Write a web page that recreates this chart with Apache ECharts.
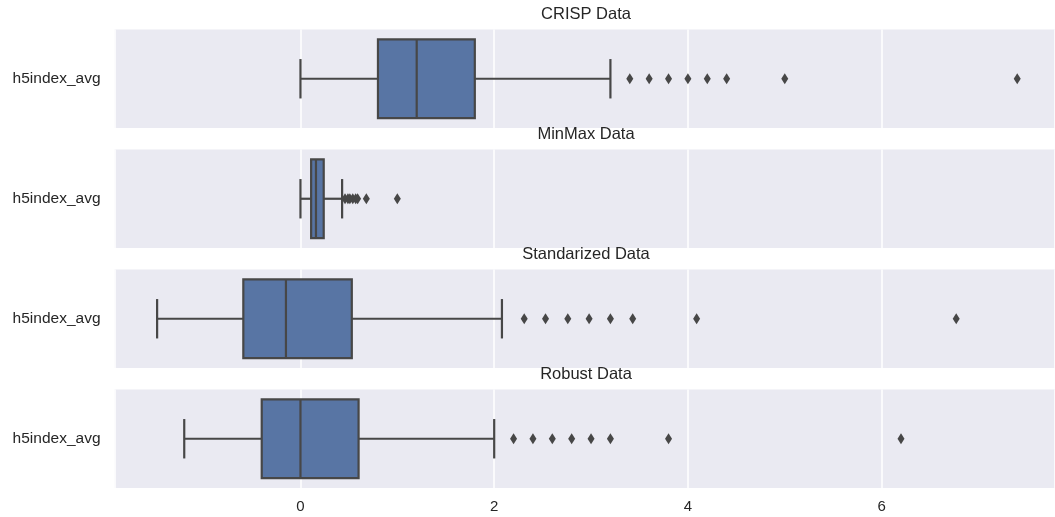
<!DOCTYPE html>
<html>
<head>
<meta charset="utf-8">
<script src="https://cdn.jsdelivr.net/npm/echarts@6/dist/echarts.min.js"></script>
<style>
html,body{margin:0;padding:0;background:#fff;}
#chart{width:1055px;height:517px;}
</style>
</head>
<body>
<div id="chart"></div>
<script>
// ---- data ----
const panelTitles = ['CRISP Data', 'MinMax Data', 'Standarized Data', 'Robust Data'];
const categoryLabel = ['h5index_avg'];
// [lower whisker, Q1, median, Q3, upper whisker]
const crispBox = [0.0, 0.8, 1.2, 1.8, 3.2];
const crispOutliers = [3.4, 3.6, 3.8, 4.0, 4.2, 4.4, 5.0, 7.4];
const minmaxBox = [0.0, 0.11, 0.16, 0.24, 0.43];
const minmaxOutliers = [0.46, 0.49, 0.51, 0.54, 0.57, 0.59, 0.68, 1.0];
const standardBox = [-1.48, -0.59, -0.15, 0.53, 2.08];
const standardOutliers = [2.31, 2.53, 2.76, 2.98, 3.20, 3.43, 4.09, 6.77];
const robustBox = [-1.2, -0.4, 0.0, 0.6, 2.0];
const robustOutliers = [2.2, 2.4, 2.6, 2.8, 3.0, 3.2, 3.8, 6.2];
const xMin = -1.92, xMax = 7.79;

const boxes = [crispBox, minmaxBox, standardBox, robustBox];
const outliers = [crispOutliers, minmaxOutliers, standardOutliers, robustOutliers];

// ---- style ----
const FONT = 'Liberation Sans, Arial, sans-serif';
const EDGE = '#474747';
const FILL = '#5875a4';
const BG = '#eaeaf2';
const TEXT = '#262626';
const GRID_LEFT = 114.5, GRID_TOP0 = 29.5, GRID_STEP = 120, GRID_H = 98.5;

function renderBox(params, api) {
  const cat = api.value(0);
  const lo = api.value(1), q1 = api.value(2), md = api.value(3), q3 = api.value(4), hi = api.value(5);
  const cy = api.coord([md, cat])[1];
  const band = api.size([0, 1])[1];
  const bh = band * 0.4, ch = band * 0.2;
  const X = v => api.coord([v, cat])[0];
  const st = { stroke: EDGE, lineWidth: 2.2, fill: null };
  return {
    type: 'group',
    children: [
      { type: 'line', shape: { x1: X(lo), y1: cy, x2: X(q1), y2: cy }, style: st },
      { type: 'line', shape: { x1: X(q3), y1: cy, x2: X(hi), y2: cy }, style: st },
      { type: 'line', shape: { x1: X(lo), y1: cy - ch, x2: X(lo), y2: cy + ch }, style: st },
      { type: 'line', shape: { x1: X(hi), y1: cy - ch, x2: X(hi), y2: cy + ch }, style: st },
      { type: 'rect', shape: { x: X(q1), y: cy - bh, width: X(q3) - X(q1), height: 2 * bh },
        style: { fill: FILL, stroke: EDGE, lineWidth: 2.2 } },
      { type: 'line', shape: { x1: X(md), y1: cy - bh, x2: X(md), y2: cy + bh }, style: st }
    ]
  };
}

const grid = [], xAxis = [], yAxis = [], series = [], graphic = [];
for (let i = 0; i < 4; i++) {
  const top = GRID_TOP0 + GRID_STEP * i;
  grid.push({ left: GRID_LEFT, right: 0, top: top, height: GRID_H,
    show: true, backgroundColor: BG, borderWidth: 0 });
  xAxis.push({
    type: 'value', gridIndex: i, min: xMin, max: xMax,
    axisLine: { show: false }, axisTick: { show: false },
    splitLine: { show: true, lineStyle: { color: '#ffffff', width: 1.5 } },
    axisLabel: { show: i === 3, color: TEXT, fontSize: 15, fontFamily: FONT, margin: 11,
      showMinLabel: false, showMaxLabel: false }
  });
  yAxis.push({
    type: 'category', gridIndex: i, data: categoryLabel,
    axisLine: { show: false }, axisTick: { show: false }, splitLine: { show: false },
    axisLabel: { color: TEXT, fontSize: 15.5, fontFamily: FONT, margin: 14 }
  });
  const b = boxes[i];
  series.push({
    type: 'custom', xAxisIndex: i, yAxisIndex: i,
    renderItem: renderBox,
    encode: { x: [1, 2, 3, 4, 5], y: 0 },
    data: [[0, b[0], b[1], b[2], b[3], b[4]]],
    z: 3, silent: true
  });
  series.push({
    type: 'scatter', xAxisIndex: i, yAxisIndex: i,
    symbol: 'diamond', symbolSize: [7, 11],
    itemStyle: { color: EDGE, opacity: 1 },
    data: outliers[i].map(v => [v, 0]),
    z: 4, silent: true
  });
  graphic.push({
    type: 'text', x: 586, y: top - 15,
    style: { text: panelTitles[i], fill: TEXT, font: '16.5px ' + FONT,
      textAlign: 'center', textVerticalAlign: 'middle' }
  });
}

const chart = echarts.init(document.getElementById('chart'), null, { renderer: 'canvas' });
chart.setOption({
  animation: false,
  backgroundColor: '#ffffff',
  grid, xAxis, yAxis, series, graphic
});
</script>
</body>
</html>
